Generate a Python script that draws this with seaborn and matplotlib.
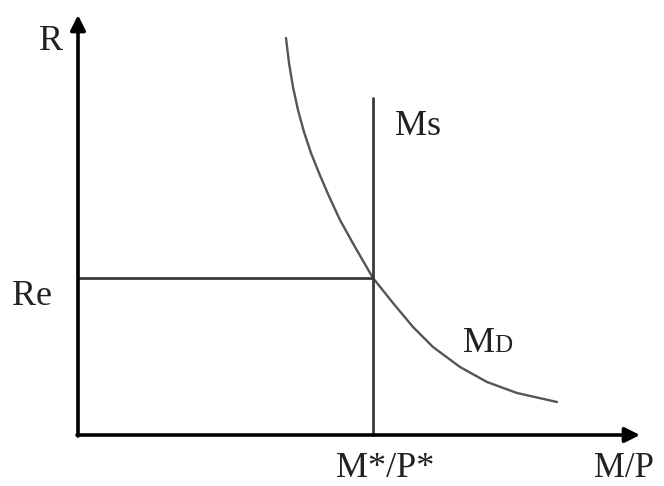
import numpy as np
import pandas as pd
import matplotlib
matplotlib.use("Agg")
import matplotlib.pyplot as plt
import seaborn as sns

sns.set_style("white")
plt.rcParams['font.family'] = ['Liberation Serif', 'DejaVu Serif']

# Money demand curve (arbitrary units)
md_x = [208, 211, 215, 220, 226, 233, 241, 250, 262, 277, 295, 315, 335, 355, 382, 409, 439, 479]
md_y = [397, 372, 348, 325, 303, 282, 262, 241, 215, 188, 157, 132, 108, 88, 68, 53, 42, 33]

# Money supply (vertical) and equilibrium rate
ms_x = 295
ms_top = 337
re_y = 157

# axis extents
x_end = 562
y_end = 420

line_col = "#3a3a3a"

fig = plt.figure(figsize=(6.64, 4.86), dpi=100)
ax = fig.add_axes([0, 0, 1, 1])

md = pd.DataFrame({"x": md_x, "y": md_y})
sns.lineplot(data=md, x="x", y="y", sort=False, estimator=None, color="#555555",
             linewidth=1.7, solid_joinstyle="round", ax=ax)

ms = pd.DataFrame({"x": [ms_x, ms_x], "y": [0, ms_top]})
sns.lineplot(data=ms, x="x", y="y", sort=False, estimator=None, color=line_col, linewidth=2.0, ax=ax)

re = pd.DataFrame({"x": [0, ms_x], "y": [re_y, re_y]})
sns.lineplot(data=re, x="x", y="y", sort=False, estimator=None, color=line_col, linewidth=2.0, ax=ax)

# axes with arrow heads
arrow = dict(arrowstyle="-|>,head_length=0.9,head_width=0.45", color="black", lw=2.6, shrinkA=0, shrinkB=0)
ax.annotate("", xy=(0, y_end), xytext=(0, -1), arrowprops=arrow)
ax.annotate("", xy=(x_end, 0), xytext=(-1, 0), arrowprops=arrow)

fs = 26
txt = "#222222"
ax.text(-27, 385, "R", fontsize=fs, ha="center", va="baseline", color=txt)
ax.text(-66, 130, "Re", fontsize=fs, ha="left", va="baseline", color=txt)
ax.text(317, 300, "Ms", fontsize=fs, ha="left", va="baseline", color=txt)
ax.text(385, 83, "M", fontsize=fs, ha="left", va="baseline", color=txt)
ax.text(416, 83, "D", fontsize=18, ha="left", va="baseline", color=txt)
ax.text(307, -42, "M*/P*", fontsize=fs, ha="center", va="baseline", color=txt)
ax.text(516, -42, "M/P", fontsize=fs - 1, ha="left", va="baseline", color=txt)

ax.set_xlim(-78, 586)
ax.set_ylim(-51, 435)
ax.set_axis_off()

plt.savefig("out.png", dpi=100)
